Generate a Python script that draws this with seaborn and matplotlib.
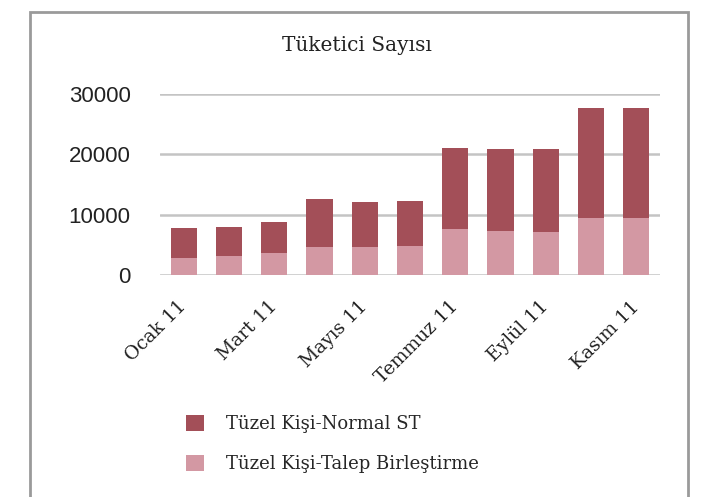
import pandas as pd
import matplotlib.pyplot as plt
import seaborn as sns
from matplotlib.patches import Patch, Rectangle

# Data
months = ["Ocak 11", "Şubat 11", "Mart 11", "Nisan 11", "Mayıs 11", "Haziran 11",
          "Temmuz 11", "Ağustos 11", "Eylül 11", "Ekim 11", "Kasım 11"]
talep_birlestirme = [2800, 3050, 3550, 4550, 4550, 4700, 7650, 7300, 7150, 9450, 9450]
normal_st = [5000, 4950, 5250, 8000, 7550, 7550, 13450, 13650, 13650, 18200, 18200]

dark = "#A34F58"
pink = "#D398A3"
serif = "DejaVu Serif"

df = pd.DataFrame({"month": months,
                   "talep": talep_birlestirme,
                   "normal": normal_st})
df["total"] = df["talep"] + df["normal"]

sns.set_style("white")
fig = plt.figure(figsize=(7.2, 4.97), dpi=100)
ax = fig.add_axes([0.222, 0.447, 0.695, 0.364])

# stacked bars: total in dark, lower part in pink on top of it
sns.barplot(data=df, x="month", y="total", color=dark, width=0.58,
            saturation=1, linewidth=0, ax=ax, zorder=3)
sns.barplot(data=df, x="month", y="talep", color=pink, width=0.58,
            saturation=1, linewidth=0, ax=ax, zorder=4)

ax.set_ylim(0, 30000)
ax.set_xlim(-0.53, len(months) - 0.47)
ax.set_yticks([0, 10000, 20000, 30000])
ax.set_yticklabels(["0", "10000", "20000", "30000"],
                   fontfamily="Liberation Sans", fontsize=16, color="#222222")
ax.yaxis.grid(True, color="#c4c4c4", linewidth=1.8, zorder=0)
ax.set_axisbelow(True)
ax.tick_params(axis="y", length=0, pad=21)

idx = list(range(0, len(months), 2))
ax.set_xticks(idx)
ax.set_xticklabels([months[i] for i in idx], rotation=45, ha="right",
                   va="center", rotation_mode="anchor", fontfamily=serif,
                   fontsize=13.5, color="#222222")
ax.tick_params(axis="x", length=0, pad=21)
ax.set_xlabel("")
ax.set_ylabel("")
for s in ax.spines.values():
    s.set_visible(False)

fig.text(357 / 720, 1 - 46 / 497, "Tüketici Sayısı", fontfamily=serif,
         fontsize=14.5, color="#222222", ha="center", va="center")

# legend
handles = [Patch(facecolor=dark, edgecolor="none", label="Tüzel Kişi-Normal ST"),
           Patch(facecolor=pink, edgecolor="none", label="Tüzel Kişi-Talep Birleştirme")]
fig.legend(handles=handles, loc="upper left", bbox_to_anchor=(0.259, 0.164),
           frameon=False, prop={"family": serif, "size": 13},
           handlelength=0.95, handleheight=0.95, handletextpad=1.25,
           labelspacing=1.2, borderaxespad=0, borderpad=0)

# outer frame (open at the bottom)
fig.add_artist(Rectangle((30 / 720, -0.1), 658 / 720, 1.1 - 12 / 497,
                         transform=fig.transFigure, fill=False,
                         edgecolor="#9a9a9a", linewidth=2, clip_on=False))

fig.savefig("out.png", dpi=100)
